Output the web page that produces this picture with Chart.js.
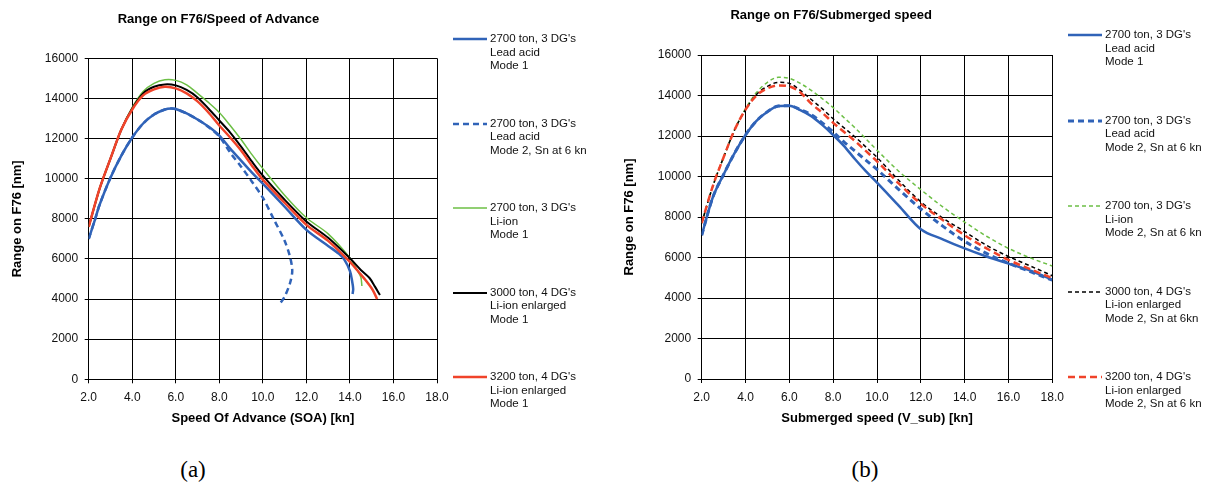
<!DOCTYPE html>
<html>
<head>
<meta charset="utf-8">
<script src="https://cdn.jsdelivr.net/npm/chart.js@4.4.1/dist/chart.umd.min.js"></script>
<style>
  body { margin: 0; background: #fff; }
  #wrap { position: relative; width: 1211px; height: 488px; overflow: hidden; font-family: "Liberation Sans", Arial, sans-serif; }
  canvas { position: absolute; top: 0; }
  .leg { position: absolute; font-size: 11.5px; line-height: 13.5px; color: #111; white-space: pre; z-index: 2; }
  .leg svg { position: absolute; left: -37px; top: 0; }
  .cap { position: absolute; font-family: "Liberation Serif", "Times New Roman", serif; font-size: 23px; color: #000; transform: translate(-50%, -50%); }
</style>
</head>
<body>
<div id="wrap">
  <canvas id="chartA" width="540" height="440" style="left:0px"></canvas>
  <canvas id="chartB" width="550" height="440" style="left:610px"></canvas>
  <div class="cap" style="left:193px; top:470px">(a)</div>
  <div class="cap" style="left:865px; top:470px">(b)</div>
</div>
<script>
// ---- data: (a) Range on F76 / Speed of Advance
const soaLeadM1 = [2.0, 2.3, 2.5, 3.0, 3.5, 4.0, 4.5, 5.0, 5.5, 5.8, 6.0, 6.5, 7.0, 7.5, 8.0, 8.5, 9.0, 9.5, 10.0, 11.0, 12.0, 13.0, 13.5, 13.75, 14.0, 14.1, 14.15, 14.12];
const rangeA_LeadM1 = [7000, 8000, 8700, 10050, 11150, 12050, 12750, 13200, 13450, 13500, 13470, 13250, 12950, 12600, 12150, 11500, 10900, 10300, 9750, 8600, 7450, 6650, 6250, 5950, 5400, 4900, 4500, 4250];

const soaLeadM2 = [2.0, 2.3, 2.5, 3.0, 3.5, 4.0, 4.5, 5.0, 5.5, 5.8, 6.0, 6.5, 7.0, 7.5, 8.0, 8.5, 9.0, 9.5, 10.0, 10.5, 11.0, 11.25, 11.35, 11.25, 11.0, 10.75];
const rangeA_LeadM2 = [7000, 8000, 8700, 10050, 11150, 12050, 12750, 13200, 13450, 13500, 13470, 13250, 12950, 12580, 12100, 11300, 10600, 9850, 9050, 7980, 6900, 6100, 5400, 4800, 4120, 3720];

const soaLiM1 = [2.0, 2.5, 3.0, 3.5, 4.0, 4.5, 5.0, 5.5, 6.0, 6.5, 7.0, 7.5, 8.0, 8.5, 9.0, 9.5, 10.0, 11.0, 12.0, 13.0, 14.0, 14.3, 14.5, 14.55];
const rangeA_LiM1 = [7600, 9500, 11000, 12450, 13550, 14350, 14750, 14930, 14900, 14680, 14250, 13800, 13300, 12650, 11950, 11200, 10500, 9170, 8050, 7250, 6050, 5500, 5100, 4650];

const soa3000M1 = [2.0, 2.5, 3.0, 3.5, 4.0, 4.5, 5.0, 5.5, 6.0, 6.5, 7.0, 7.5, 8.0, 8.5, 9.0, 9.5, 10.0, 11.0, 12.0, 13.0, 14.0, 14.5, 14.9, 15.15, 15.38];
const rangeA_3000M1 = [7600, 9500, 11000, 12450, 13500, 14250, 14580, 14700, 14650, 14420, 14050, 13500, 12900, 12300, 11600, 10850, 10150, 8950, 7870, 7050, 6030, 5450, 5050, 4620, 4200];

const soa3200M1 = [2.0, 2.5, 3.0, 3.5, 4.0, 4.5, 5.0, 5.5, 6.0, 6.5, 7.0, 7.5, 8.0, 8.5, 9.0, 9.5, 10.0, 11.0, 12.0, 13.0, 14.0, 14.4, 14.75, 15.05, 15.25];
const rangeA_3200M1 = [7600, 9500, 11000, 12450, 13450, 14150, 14450, 14580, 14500, 14250, 13850, 13300, 12650, 12050, 11400, 10650, 9950, 8800, 7700, 6900, 5850, 5350, 4900, 4450, 4000];

// ---- data: (b) Range on F76 / Submerged speed
const vsub = [2.0, 2.5, 3.0, 3.5, 4.0, 4.5, 5.0, 5.5, 6.0, 6.5, 7.0, 7.5, 8.0, 8.5, 9.0, 9.5, 10.0, 11.0, 12.0, 13.0, 14.0, 15.0, 16.0, 17.0, 18.0];
const rangeB_LeadM1 = [7100, 8950, 10100, 11150, 12050, 12750, 13200, 13480, 13500, 13280, 12980, 12550, 12050, 11500, 10850, 10250, 9700, 8550, 7400, 6900, 6450, 6050, 5700, 5350, 4900];
const rangeB_LeadM2 = [7100, 8950, 10100, 11150, 12050, 12750, 13200, 13480, 13500, 13300, 13050, 12650, 12200, 11700, 11250, 10800, 10350, 9350, 8400, 7550, 6800, 6200, 5720, 5300, 4880];
const rangeB_LiM2 = [7700, 9500, 10950, 12300, 13350, 14150, 14650, 14900, 14850, 14600, 14250, 13850, 13400, 12900, 12400, 11850, 11300, 10250, 9350, 8500, 7750, 7050, 6450, 5980, 5580];
const rangeB_3000M2 = [7700, 9500, 10950, 12300, 13300, 14050, 14450, 14650, 14600, 14250, 13800, 13350, 12850, 12400, 11950, 11450, 10950, 9800, 8750, 7950, 7280, 6600, 6050, 5580, 5100];
const rangeB_3200M2 = [7700, 9500, 10950, 12300, 13300, 14000, 14350, 14500, 14450, 14150, 13600, 13150, 12650, 12200, 11750, 11250, 10750, 9650, 8650, 7850, 7100, 6450, 5880, 5420, 4980];

const speedTicks = [2, 4, 6, 8, 10, 12, 14, 16, 18];
const rangeTicks = [0, 2000, 4000, 6000, 8000, 10000, 12000, 14000, 16000];

const labelsA = [
  "2700 ton, 3 DG's\nLead acid\nMode 1",
  "2700 ton, 3 DG's\nLead acid\nMode 2, Sn at 6 kn",
  "2700 ton, 3 DG's\nLi-ion\nMode 1",
  "3000 ton, 4 DG's\nLi-ion enlarged\nMode 1",
  "3200 ton, 4 DG's\nLi-ion enlarged\nMode 1"
];
const labelsB = [
  "2700 ton, 3 DG's\nLead acid\nMode 1",
  "2700 ton, 3 DG's\nLead acid\nMode 2, Sn at 6 kn",
  "2700 ton, 3 DG's\nLi-ion\nMode 2, Sn at 6 kn",
  "3000 ton, 4 DG's\nLi-ion enlarged\nMode 2, Sn at 6kn",
  "3200 ton, 4 DG's\nLi-ion enlarged\nMode 2, Sn at 6 kn"
];

const BLUE = "#3063B8", GREEN = "#6CBF45", BLACK = "#000000", RED = "#F0432A";
const FONT = "'Liberation Sans', Arial, sans-serif";

function pts(xs, ys) {
  return xs.map((x, i) => ({ x: x, y: ys[i] }));
}

function line(label, data, color, width, dash, order, tension) {
  return {
    label: label,
    data: data,
    borderColor: color,
    backgroundColor: color,
    borderWidth: width,
    borderDash: dash,
    pointRadius: 0,
    showLine: true,
    fill: false,
    tension: tension,
    // x only grows in (b), so a monotone spline keeps those curves smooth
    cubicInterpolationMode: tension === "mono" ? "monotone" : "default",
    order: order
  };
}

function makeOptions(title, xTitle, yWidth, xHeight, pad) {
  return {
    responsive: false,
    animation: false,
    devicePixelRatio: 1,
    layout: { padding: { left: 0, right: pad.right, top: 0, bottom: 0 } },
    plugins: {
      legend: { display: false },
      tooltip: { enabled: false },
      title: {
        display: true,
        text: title,
        color: "#000",
        font: { family: FONT, size: 13, weight: "bold" },
        padding: { top: pad.titleTop, bottom: pad.titleBottom }
      }
    },
    scales: {
      x: {
        type: "linear",
        min: 2,
        max: 18,
        afterBuildTicks: (s) => { s.ticks = speedTicks.map(v => ({ value: v })); },
        afterFit: (s) => { s.height = xHeight; },
        ticks: {
          color: "#111",
          font: { family: FONT, size: 12 },
          padding: 7,
          maxRotation: 0,
          callback: (v) => Number(v).toFixed(1)
        },
        grid: { color: "#000", lineWidth: 1, tickLength: 4 },
        border: { color: "#000", width: 1 },
        title: {
          display: true,
          text: xTitle,
          color: "#000",
          font: { family: FONT, size: 13, weight: "bold" },
          padding: { top: 0, bottom: 14 }
        }
      },
      y: {
        type: "linear",
        min: 0,
        max: 16000,
        afterBuildTicks: (s) => { s.ticks = rangeTicks.map(v => ({ value: v })); },
        afterFit: (s) => { s.width = yWidth; },
        ticks: {
          color: "#111",
          font: { family: FONT, size: 12 },
          padding: 6.5,
          callback: (v) => String(v)
        },
        grid: { color: "#000", lineWidth: 1, tickLength: 4 },
        border: { color: "#000", width: 1 },
        title: {
          display: true,
          text: "Range on F76 [nm]",
          color: "#000",
          font: { family: FONT, size: 13, weight: "bold" },
          padding: { top: pad.yTitle, bottom: 0 }
        }
      }
    }
  };
}

const dsA = [
  line(labelsA[0], pts(soaLeadM1, rangeA_LeadM1), BLUE, 2.5, [], 2, 0.3),
  line(labelsA[1], pts(soaLeadM2, rangeA_LeadM2), BLUE, 2.5, [6, 4], 1, 0.3),
  line(labelsA[2], pts(soaLiM1, rangeA_LiM1), GREEN, 1.5, [], 4, 0.3),
  line(labelsA[3], pts(soa3000M1, rangeA_3000M1), BLACK, 2, [], 3, 0.3),
  line(labelsA[4], pts(soa3200M1, rangeA_3200M1), RED, 2.5, [], 0, 0.3)
];

const dsB = [
  line(labelsB[0], pts(vsub, rangeB_LeadM1), BLUE, 2.5, [], 2, "mono"),
  line(labelsB[1], pts(vsub, rangeB_LeadM2), BLUE, 3, [6, 4], 1, "mono"),
  line(labelsB[2], pts(vsub, rangeB_LiM2), GREEN, 1.5, [4, 3], 4, "mono"),
  line(labelsB[3], pts(vsub, rangeB_3000M2), BLACK, 1.5, [4, 3], 3, "mono"),
  line(labelsB[4], pts(vsub, rangeB_3200M2), RED, 2.5, [7, 4], 0, "mono")
];
dsB.forEach(d => { d.tension = 0.4; });

new Chart("chartA", {
  type: "scatter",
  data: { datasets: dsA },
  options: makeOptions("Range on F76/Speed of Advance", "Speed Of Advance (SOA) [kn]", 88.7, 60.7,
    { right: 103, titleTop: 11.2, titleBottom: 31.5, yTitle: 9.7 })
});

new Chart("chartB", {
  type: "scatter",
  data: { datasets: dsB },
  options: makeOptions("Range on F76/Submerged speed", "Submerged speed (V_sub) [kn]", 91.7, 61,
    { right: 107.7, titleTop: 7.2, titleBottom: 32.2, yTitle: 11.5 })
});

// HTML legends
function legend(datasets, textLeft, firstY, step) {
  const wrap = document.getElementById("wrap");
  datasets.forEach((d, i) => {
    const div = document.createElement("div");
    div.className = "leg";
    div.style.left = textLeft + "px";
    div.style.top = (firstY + i * step - 7) + "px";
    div.textContent = d.label;
    const dash = d.borderDash.length ? d.borderDash.join(",") : "none";
    div.insertAdjacentHTML("afterbegin",
      `<svg width="35" height="14"><line x1="0" y1="7" x2="34" y2="7" stroke="${d.borderColor}" stroke-width="${d.borderWidth}" stroke-dasharray="${dash}"/></svg>`);
    wrap.appendChild(div);
  });
}
legend(dsA, 490, 39, 84.5);
legend(dsB, 1105, 35, 85.5);
</script>
</body>
</html>
